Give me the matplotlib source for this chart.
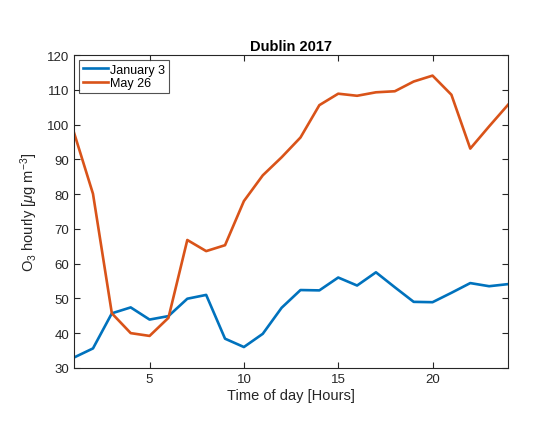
import matplotlib.pyplot as plt

plt.rcParams['font.family'] = ['Liberation Sans', 'DejaVu Sans']
plt.rcParams['mathtext.fontset'] = 'custom'
plt.rcParams['mathtext.rm'] = 'Liberation Sans'
plt.rcParams['mathtext.it'] = 'Liberation Sans:italic'

hours = list(range(1, 25))
january_3 = [33.0, 35.6, 45.7, 47.4, 43.9, 44.9, 49.9, 51.0, 38.4, 36.0, 39.8, 47.3,
             52.4, 52.3, 56.0, 53.7, 57.5, 53.2, 49.0, 48.9, 51.6, 54.4, 53.5, 54.1]
may_26 = [97.6, 80.1, 45.7, 40.0, 39.2, 44.4, 66.8, 63.6, 65.3, 78.0, 85.4, 90.6,
          96.3, 105.6, 108.9, 108.3, 109.3, 109.6, 112.4, 114.1, 108.6, 93.1, 99.5, 105.7]

fig = plt.figure(figsize=(5.41, 4.35), dpi=100)
ax = fig.add_axes([0.137, 0.152, 0.802, 0.719])

ax.plot(hours, january_3, color='#0072BD', lw=1.9, label='January 3')
ax.plot(hours, may_26, color='#D95319', lw=1.9, label='May 26')

ax.set_xlim(1, 24)
ax.set_ylim(30, 120)
ax.set_xticks([5, 10, 15, 20])
ax.set_yticks(range(30, 121, 10))
ax.tick_params(direction='in', top=True, right=True, labelsize=9.5,
               colors='#262626', length=4)
for s in ax.spines.values():
    s.set_color('#262626')
    s.set_linewidth(0.8)

ax.set_title('Dublin 2017', fontsize=10.5, fontweight='bold', pad=4)
ax.set_xlabel('Time of day [Hours]', fontsize=10.5, color='#262626', labelpad=2)
ax.set_ylabel(r'O$_3$ hourly [$\mathit{\mu}$g m$^{-3}$]', fontsize=10.5,
              color='#262626', labelpad=5)

leg = ax.legend(loc='upper left', fontsize=9, frameon=True, fancybox=False,
                borderpad=0.3, handlelength=2.0, handletextpad=0.2,
                labelspacing=0.1, borderaxespad=0.4)
leg.get_frame().set_edgecolor('#262626')
leg.get_frame().set_linewidth(0.8)

fig.savefig('out.png', dpi=100)
